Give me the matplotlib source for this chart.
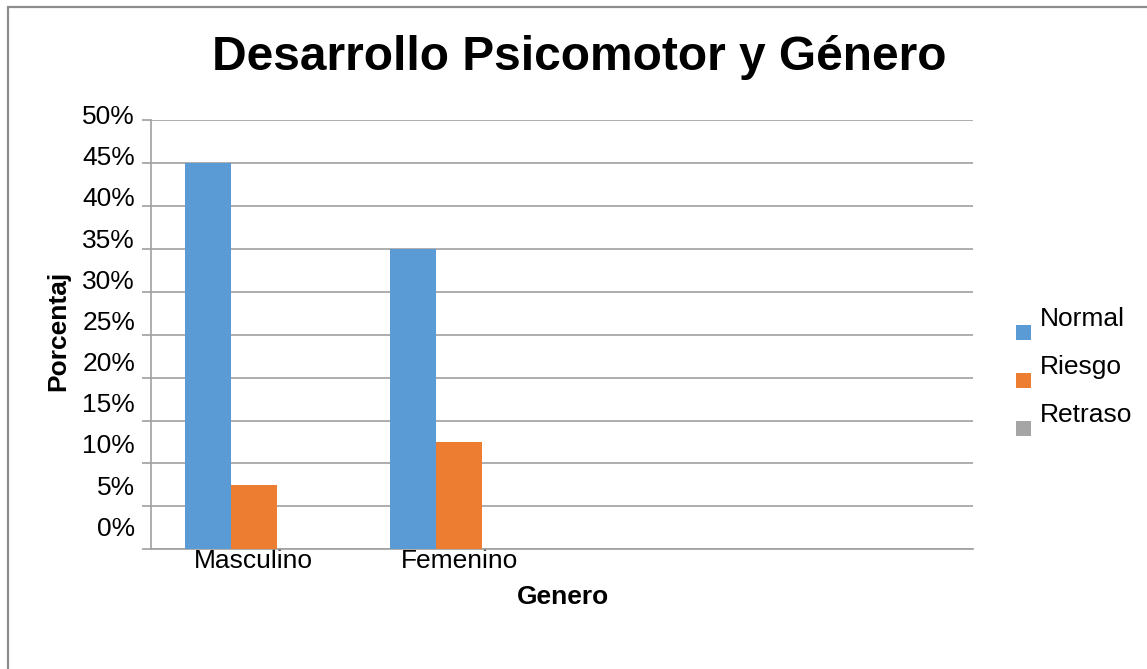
import numpy as np
import matplotlib
matplotlib.use("Agg")
import matplotlib.pyplot as plt
from matplotlib.patches import Rectangle
from matplotlib.container import BarContainer
from matplotlib.legend_handler import HandlerPatch
from matplotlib.transforms import ScaledTranslation

plt.rcParams['font.family'] = ['Liberation Sans', 'DejaVu Sans']

# datos
categorias = ['Masculino', 'Femenino', '', '']
series = ['Normal', 'Riesgo', 'Retraso']
normal = [45, 35, 0, 0]
riesgo = [7.5, 12.5, 0, 0]
retraso = [0, 0, 0, 0]
colores = ['#5B9BD5', '#ED7D31', '#A5A5A5']
yticks = [0, 5, 10, 15, 20, 25, 30, 35, 40, 45, 50]

W, H = 1147, 669
fig = plt.figure(figsize=(W / 100, H / 100), dpi=100)
ax = fig.add_axes([151 / W, (H - 549.3) / H, (973 - 151) / W, (549.3 - 120) / H])

# borde del grafico (solo se ve arriba e izquierda)
fig.patches.append(Rectangle((8 / W, -0.1), 1.2, (H - 7) / H + 0.1, transform=fig.transFigure,
                             fill=False, edgecolor='#8c8c8c', lw=1.6))

x = np.arange(len(categorias))
ancho = 46 / 205.5
datos = [normal, riesgo, retraso]
for k in range(3):
    ax.bar(x + (k - 1) * ancho, datos[k], ancho, color=colores[k], label=series[k], zorder=3)

ax.set_xlim(-0.5, len(categorias) - 0.5)
ax.set_ylim(0, 50)
ax.set_xticks(x)
ax.set_xticklabels(categorias, fontsize=19)
ax.tick_params(axis='x', length=0, pad=0)
ax.set_yticks(yticks)
ax.set_yticklabels([str(v) + '%' for v in yticks], fontsize=19)
ax.tick_params(axis='y', length=6.5, width=1.2, color='#a0a0a0', pad=5)
ax.yaxis.grid(True, color='#a0a0a0', lw=1.2, zorder=0)

# etiquetas del eje y desplazadas hacia arriba como en Excel
for v, lab in zip(yticks, ax.get_yticklabels()):
    off = (23 - 0.35 * v) / 100
    lab.set_transform(lab.get_transform() + ScaledTranslation(0, off, fig.dpi_scale_trans))

for s in ['top', 'right']:
    ax.spines[s].set_visible(False)
for s in ['left', 'bottom']:
    ax.spines[s].set_color('#a0a0a0')
    ax.spines[s].set_linewidth(1.2)

fig.text(579 / W, 1 - 58 / H, 'Desarrollo Psicomotor y Género', fontsize=34.5, fontweight='bold',
         ha='center', va='center')
fig.text(563 / W, 1 - 597 / H, 'Genero', fontsize=19, fontweight='bold', ha='center', va='center')
fig.text(58 / W, 1 - 331 / H, 'Porcentaj', fontsize=19, fontweight='bold', ha='center', va='center',
         rotation=90)


def cuadro(legend, orig_handle, xdescent, ydescent, width, height, fontsize):
    # cuadro de color mas abajo que el texto
    return Rectangle((-xdescent, -ydescent + height / 2 - 5.4 - 11.5), 10.8, 10.8)


def copiar(legend_handle, orig_handle):
    legend_handle.update_from(orig_handle[0])


leg = ax.legend(loc='center left', bbox_to_anchor=(992 / W, 1 - 367 / H), bbox_transform=fig.transFigure,
                frameon=False, fontsize=19, handlelength=0.57, handleheight=0.57, handletextpad=0.35,
                labelspacing=0.91,
                handler_map={BarContainer: HandlerPatch(patch_func=cuadro, update_func=copiar)})

fig.savefig('out.png', dpi=100)
